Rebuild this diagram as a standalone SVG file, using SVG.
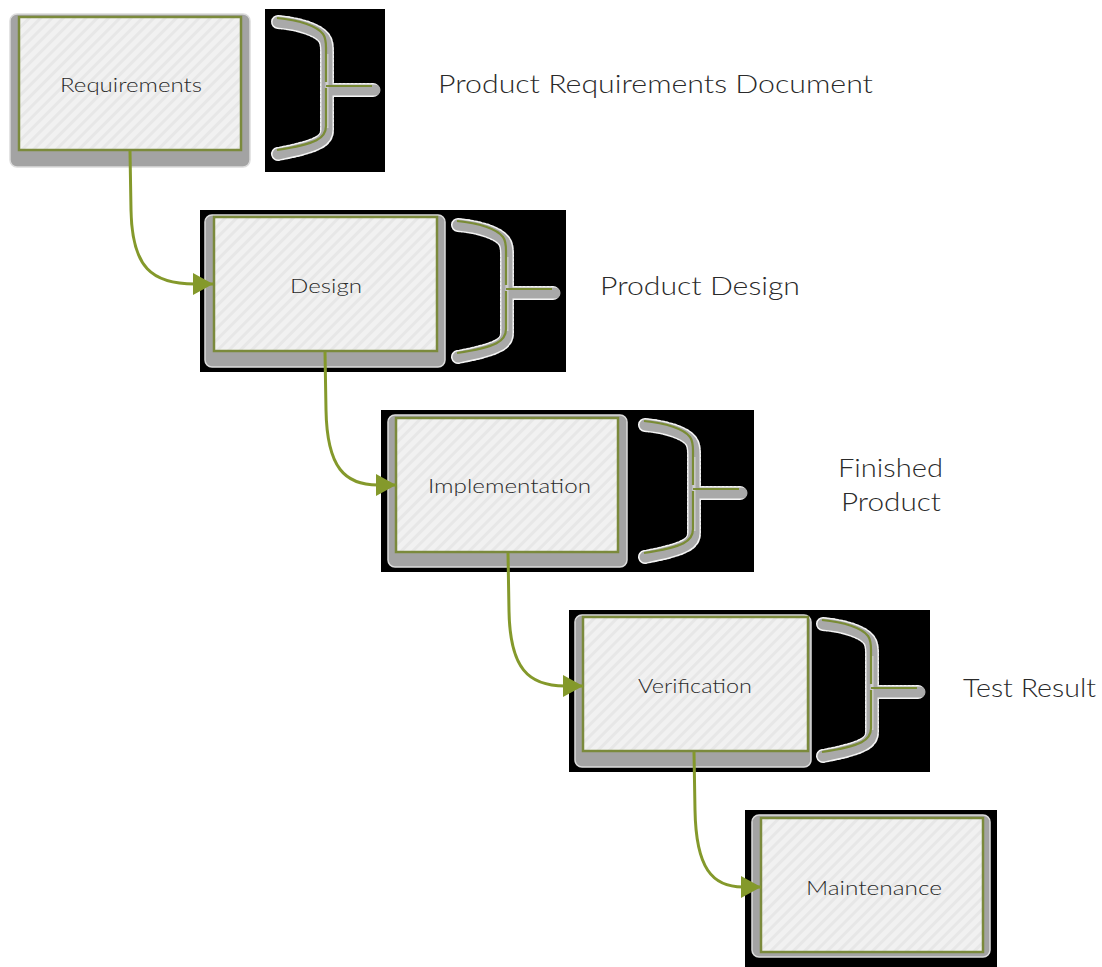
<svg xmlns="http://www.w3.org/2000/svg" width="1102" height="967" viewBox="0 0 1102 967">
<defs>
<pattern id="stripes" width="8" height="8" patternUnits="userSpaceOnUse" patternTransform="rotate(45)">
<rect width="8" height="8" fill="#f1f1f1"/>
<rect width="3" height="8" fill="#e7e7e7"/>
</pattern>
<marker id="arr" markerUnits="userSpaceOnUse" viewBox="0 0 20 22" refX="20" refY="11" markerWidth="20" markerHeight="22" orient="auto" overflow="visible">
<path d="M0,0 L20,11 L0,22 Z" fill="#84992b"/>
</marker>
<g id="brk">
<path d="M0,0 C22,2 40,8 46,16 C49,20 49,26 49,30 L49,108 C49,118 42,124 0,132 M49,68 L97,68" fill="none" stroke="#f4f4f4" stroke-width="14" stroke-linecap="round" stroke-dasharray="2 2"/>
<path d="M0,0 C22,2 40,8 46,16 C49,20 49,26 49,30 L49,108 C49,118 42,124 0,132 M49,68 L97,68" fill="none" stroke="#a9a9a9" stroke-width="11" stroke-linecap="round"/>
<path d="M49,32 L49,106" fill="none" stroke="#cfcfcf" stroke-width="3"/>
<path d="M2,-4 C24,-2 42,4 48,12 C51,16 51,22 51,26 L51,60 M51,64 L97,64 M51,66 L51,104 C51,116 42,122 2,128" fill="none" stroke="#7a8c35" stroke-width="2.2" transform="translate(-3,0)"/>
</g>
</defs>
<style>
.bg{fill:#000}
.sh{fill:#a3a3a3;stroke:#dcdcdc;stroke-width:1.5}
.bx{fill:url(#stripes);stroke:#7b8a3c;stroke-width:2.5}
.nt{font-family:"Lato","Open Sans","Liberation Sans",sans-serif;font-weight:300;font-size:20px;fill:#2a2a2a}
.lb{font-family:"Lato","Open Sans","Liberation Sans",sans-serif;font-weight:300;font-size:26px;fill:#2a2a2a}
.cn{fill:none;stroke:#84992b;stroke-width:3}
</style>
<rect width="1102" height="967" fill="#fff"/>

<g id="node-requirements">
<rect class="sh" x="10" y="14" width="240" height="153" rx="7"/>
<rect class="bx" x="19" y="17" width="222" height="133"/>
<text class="nt" x="60" y="92" textLength="142" lengthAdjust="spacingAndGlyphs">Requirements</text>
</g>
<g id="output-requirements">
<rect class="bg" x="265" y="9" width="120" height="163"/>
<use href="#brk" x="278" y="22"/>
<text class="lb" x="438" y="93" textLength="435" lengthAdjust="spacingAndGlyphs">Product Requirements Document</text>
</g>

<g id="node-design">
<rect class="bg" x="200" y="210" width="366" height="162"/>
<rect class="sh" x="205" y="215" width="240" height="152" rx="7"/>
<rect class="bx" x="214" y="217" width="223" height="134"/>
<text class="nt" x="290" y="293" textLength="72" lengthAdjust="spacingAndGlyphs">Design</text>
</g>
<g id="output-design">
<use href="#brk" x="458" y="225"/>
<text class="lb" x="600" y="295" textLength="200" lengthAdjust="spacingAndGlyphs">Product Design</text>
</g>

<g id="node-implementation">
<rect class="bg" x="381" y="410" width="373" height="162"/>
<rect class="sh" x="388" y="415" width="239" height="152" rx="7"/>
<rect class="bx" x="396" y="418" width="222" height="134"/>
<text class="nt" x="428" y="493" textLength="163" lengthAdjust="spacingAndGlyphs">Implementation</text>
</g>
<g id="output-implementation">
<use href="#brk" x="645" y="425"/>
<text class="lb" x="838" y="477" textLength="105" lengthAdjust="spacingAndGlyphs">Finished</text>
<text class="lb" x="841" y="511" textLength="100" lengthAdjust="spacingAndGlyphs">Product</text>
</g>

<g id="node-verification">
<rect class="bg" x="569" y="610" width="361" height="162"/>
<rect class="sh" x="575" y="615" width="236" height="152" rx="7"/>
<rect class="bx" x="583" y="617" width="225" height="134"/>
<text class="nt" x="638" y="693" textLength="114" lengthAdjust="spacingAndGlyphs">Verification</text>
</g>
<g id="output-verification">
<use href="#brk" x="823" y="624"/>
<text class="lb" x="963" y="697" textLength="133" lengthAdjust="spacingAndGlyphs">Test Result</text>
</g>

<g id="node-maintenance">
<rect class="bg" x="745" y="810" width="252" height="157"/>
<rect class="sh" x="752" y="815" width="238" height="142" rx="7"/>
<rect class="bx" x="761" y="818" width="222" height="134"/>
<text class="nt" x="806" y="895" textLength="136" lengthAdjust="spacingAndGlyphs">Maintenance</text>
</g>

<g id="connectors">
<path class="cn" d="M130,151 L131,210 C132,268 152,284 195,284 L213,284" marker-end="url(#arr)"/>
<path class="cn" d="M325,352 L326,410 C327,468 345,485 378,485 L396,485" marker-end="url(#arr)"/>
<path class="cn" d="M508,553 L509,611 C510,668 528,686 565,686 L583,686" marker-end="url(#arr)"/>
<path class="cn" d="M694,752 L695,810 C696,868 712,887 743,887 L761,887" marker-end="url(#arr)"/>
</g>
</svg>
